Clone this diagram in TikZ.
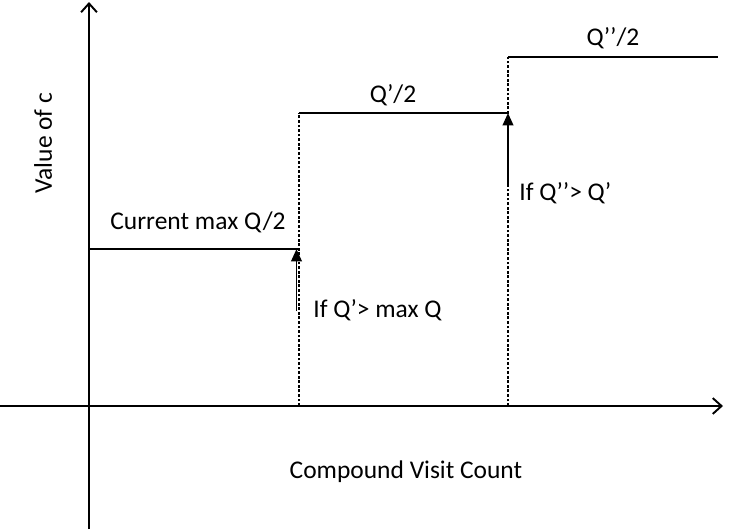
\documentclass[tikz,border=0pt]{standalone}
\usepackage{fontspec}
\setmainfont{Carlito}
\usetikzlibrary{arrows.meta}
\tikzset{
  axis/.style={line width=1.1pt, -{Straight Barb[length=5pt,width=9pt]}},
  level/.style={line width=1.1pt},
  jump/.style={line width=0.9pt, dash pattern=on 1.6pt off 1pt},
  rise/.style={line width=1.1pt, -{Triangle[length=7pt,width=6pt]}},
  lbl/.style={font=\fontsize{14.5}{17}\selectfont, inner sep=0pt}
}
\begin{document}
\begin{tikzpicture}[x=0.02cm,y=-0.02cm]
\useasboundingbox (0,0) rectangle (740,529);

% axes
\coordinate (ybot) at (89,529);
\coordinate (ytop) at (89,2);
\coordinate (xleft) at (0,406);
\coordinate (xright) at (723,406);
\draw[axis] (ybot) -- (ytop);
\draw[axis] (xleft) -- (xright);

% step levels
\coordinate (s0) at (89,249);
\coordinate (s1) at (299,249);
\coordinate (b1) at (299,406);
\coordinate (t1) at (299,113);
\coordinate (s2) at (508,113);
\coordinate (b2) at (508,406);
\coordinate (t2) at (508,57);
\coordinate (s3) at (718,57);

\draw[level] (s0) -- (s1);
\draw[level] (t1) -- (s2);
\draw[level] (t2) -- (s3);
\draw[jump] (b1) -- (t1);
\draw[jump] (b2) -- (t2);

% update arrows
\coordinate (r1a) at (296.5,311);
\coordinate (r1b) at (296.5,249);
\coordinate (r2a) at (508,184);
\coordinate (r2b) at (508,113);
\draw[rise] (r1a) -- (r1b);
\draw[rise] (r2a) -- (r2b);

% labels
\node[lbl, rotate=90] (ylab) at (43,143) {Value of c};
\node[lbl] (xlab) at (406,472) {Compound Visit Count};
\node[lbl] (cur) at (198,222) {Current max Q/2};
\node[lbl] (half1) at (393,95) {Q’/2};
\node[lbl] (half2) at (613,38) {Q’’/2};
\node[lbl, anchor=west] (cond1) at (313,310) {If Q’> max Q};
\node[lbl, anchor=west] (cond2) at (519,193) {If Q’’> Q’};
\end{tikzpicture}
\end{document}
